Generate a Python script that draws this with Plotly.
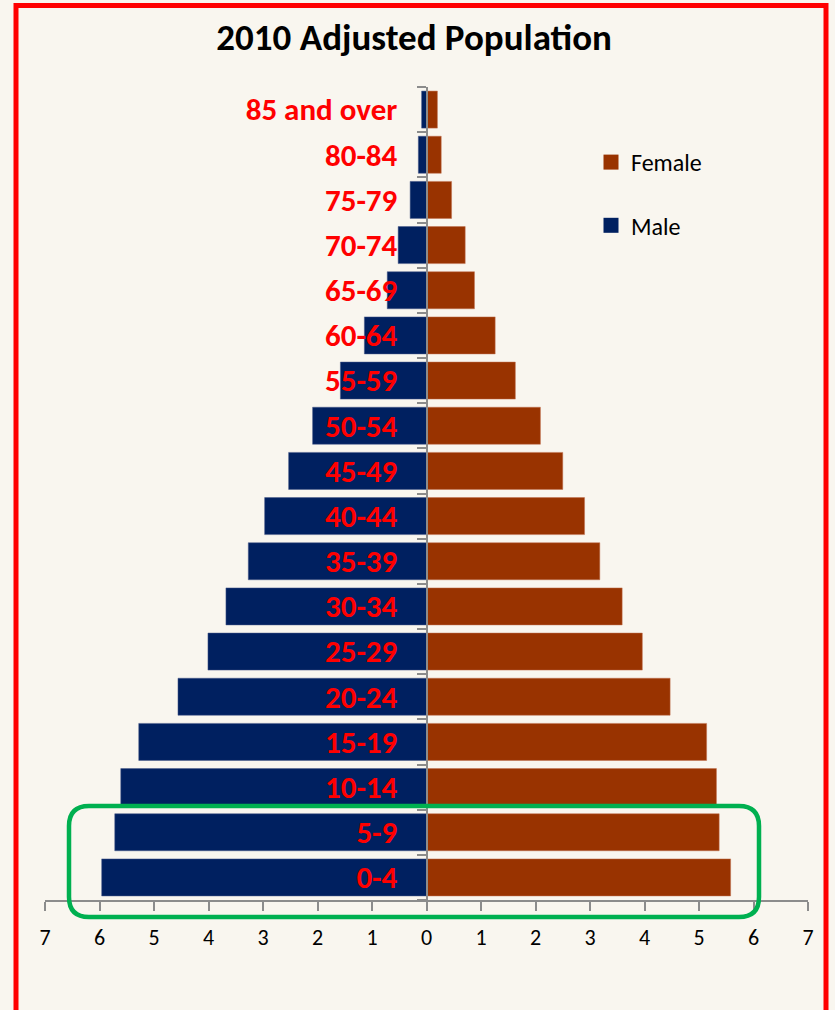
import plotly.graph_objects as go

age_groups = ["0-4", "5-9", "10-14", "15-19", "20-24", "25-29", "30-34", "35-39",
              "40-44", "45-49", "50-54", "55-59", "60-64", "65-69", "70-74",
              "75-79", "80-84", "85 and over"]
male = [5.96, 5.72, 5.61, 5.28, 4.56, 4.01, 3.68, 3.27, 2.97, 2.53, 2.09, 1.58,
        1.14, 0.72, 0.52, 0.30, 0.15, 0.09]
female = [5.58, 5.37, 5.32, 5.14, 4.47, 3.96, 3.59, 3.18, 2.90, 2.50, 2.09, 1.63,
          1.26, 0.88, 0.71, 0.46, 0.27, 0.20]
x_tick_vals = list(range(-7, 8))
x_tick_text = [str(abs(v)) for v in x_tick_vals]

W, H = 835, 1010
L, R, T, B = 45, 27, 87, 110
PW, PH = W - L - R, H - T - B
FONT = "Carlito, Lato, sans-serif"
BG = "#F9F6EF"
FEMALE_C = "#993300"
MALE_C = "#002060"


def px(xp):
    return (xp - L) / PW


def py(yp):
    return (H - B - yp) / PH


fig = go.Figure()
fig.add_trace(go.Bar(y=age_groups, x=female, orientation="h", name="Female", showlegend=False,
                     marker=dict(color=FEMALE_C, line=dict(color="#c07050", width=0.5))))
fig.add_trace(go.Bar(y=age_groups, x=[-v for v in male], orientation="h", name="Male", showlegend=False,
                     marker=dict(color=MALE_C, line=dict(color="#4a5a8a", width=0.5))))
# legend entries (square swatches)
fig.add_trace(go.Scatter(x=[None], y=[None], mode="markers", name="Female", legendgroup="f",
                         marker=dict(symbol="square", size=15, color=FEMALE_C)))
fig.add_trace(go.Scatter(x=[None], y=[None], mode="markers", name="Male", legendgroup="m",
                         marker=dict(symbol="square", size=15, color=MALE_C)))

# rounded green rectangle
x0, x1, y0, y1, r = 69, 759, 806, 917, 20
rx, ry = r / PW, r / PH
X0, X1, Y0, Y1 = px(x0), px(x1), py(y0), py(y1)
path = (f"M {X0+rx},{Y0} L {X1-rx},{Y0} Q {X1},{Y0} {X1},{Y0-ry} "
        f"L {X1},{Y1+ry} Q {X1},{Y1} {X1-rx},{Y1} L {X0+rx},{Y1} "
        f"Q {X0},{Y1} {X0},{Y1+ry} L {X0},{Y0-ry} Q {X0},{Y0} {X0+rx},{Y0} Z")

shapes = [
    dict(type="path", xref="paper", yref="paper", path=path,
         line=dict(color="#00B050", width=4.5), layer="above"),
    dict(type="rect", xref="paper", yref="paper", x0=px(16), x1=px(826), y0=py(1030), y1=py(5.5),
         line=dict(color="#FF0000", width=5), layer="above"),
]

fig.update_layout(
    width=W, height=H,
    margin=dict(l=L, r=R, t=T, b=B),
    paper_bgcolor=BG, plot_bgcolor=BG,
    barmode="relative", bargap=0.18,
    showlegend=True,
    font=dict(family=FONT, color="#000000"),
    title=dict(text="2010 Adjusted Population", x=0.496, xanchor="center", y=1 - 37 / H, yanchor="middle",
               font=dict(family=FONT, size=37, color="#000000", weight="bold")),
    legend=dict(x=px(591), y=py(140), xanchor="left", yanchor="top",
                traceorder="grouped", tracegroupgap=29,
                font=dict(family=FONT, size=24, color="#000000"), bgcolor="rgba(0,0,0,0)"),
    xaxis=dict(range=[-7, 7], tickvals=x_tick_vals, ticktext=x_tick_text,
               showgrid=False, zeroline=False, showline=True, linecolor="#8C8C8C", linewidth=1.5,
               ticks="outside", ticklen=9, tickcolor="#8C8C8C", tickwidth=1.5,
               ticklabelstandoff=8,
               tickfont=dict(family=FONT, size=22, color="#000000")),
    yaxis=dict(type="category", anchor="free", position=0.5, showgrid=False, zeroline=False,
               showline=True, linecolor="#8C8C8C", linewidth=2,
               ticks="outside", ticklen=9, tickcolor="#8C8C8C", tickwidth=2, tickson="boundaries",
               ticklabelstandoff=22,
               tickfont=dict(family=FONT, size=31, color="#FF0000", weight="bold")),
    shapes=shapes,
)

fig.write_html("out.html", config={"displayModeBar": False},
               post_script="document.body.style.margin='0';")
